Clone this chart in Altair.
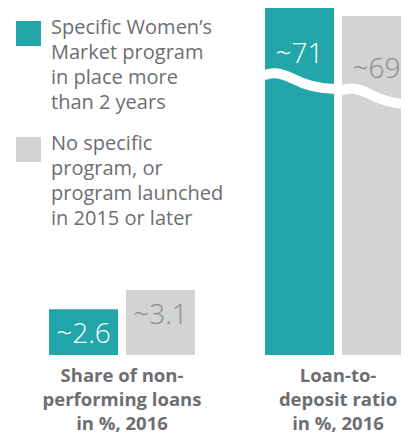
import altair as alt
import pandas as pd

# ---- data ----
groups = ["Share of non-|performing loans|in %, 2016", "Loan-to-|deposit ratio|in %, 2016"]
series = ["Specific Women’s|Market program|in place more|than 2 years",
          "No specific|program, or|program launched|in 2015 or later"]
npl_values = [2.6, 3.1]
npl_labels = ["~2.6", "~3.1"]
ltd_values = [71, 69]
ltd_labels = ["~71", "~69"]
ltd_break = [52.75, 48.9]   # where the axis break is drawn (value units)

TEAL = "#22a6aa"
GREY = "#d1d3d4"
TXT = "#6d6e71"
VAL_GREY = "#8a8c8f"
FONT = "Open Sans"

WAVE = "M-1,-0.15 C-0.8,-0.25 -0.55,-0.25 -0.2,-0.07 C0.15,0.12 0.5,0.22 1,0.22"

npl = pd.DataFrame({"group": groups[0], "series": series, "value": npl_values, "label": npl_labels})
ltd = pd.DataFrame({"group": groups[1], "series": series, "value": ltd_values,
                    "label": ltd_labels, "brk": ltd_break})

x = alt.X("group:N", sort=groups,
          scale=alt.Scale(domain=groups, range=[41, 403], paddingInner=0.3241, paddingOuter=0),
          axis=alt.Axis(title=None, labelAngle=0, domain=False, ticks=False,
                        labelExpr="split(datum.label, '|')", labelFont=FONT,
                        labelFontSize=18.5, labelFontWeight="bold", labelColor=TXT,
                        labelLineHeight=24, labelPadding=11, labelLimit=400))
xo = alt.XOffset("series:N", sort=series,
                 scale=alt.Scale(domain=series, paddingInner=0.1039, paddingOuter=0))
color = alt.Color("series:N", sort=series,
                  scale=alt.Scale(domain=series, range=[TEAL, GREY]),
                  legend=alt.Legend(title=None, orient="none", legendX=8, legendY=13,
                                    direction="vertical", columns=1,
                                    symbolType="square", symbolSize=625,
                                    symbolStrokeWidth=0, symbolOpacity=1,
                                    labelExpr="split(datum.label, '|')",
                                    labelFont=FONT, labelFontSize=20, labelColor=TXT,
                                    labelOffset=10, labelLimit=400,
                                    labelBaseline="alphabetic", rowPadding=20, padding=0))
txt_color = alt.when(alt.datum.series == series[0]).then(alt.value("white")).otherwise(alt.value(VAL_GREY))

dom_left = [1.416, 10.406]
dom_right = [-15.75, 71]
y_left = alt.Y("value:Q", scale=alt.Scale(domain=dom_left, zero=False, nice=False), axis=None)
y_right = alt.Y("value:Q", scale=alt.Scale(domain=dom_right, zero=False, nice=False), axis=None)
y_brk = alt.Y("brk:Q", scale=alt.Scale(domain=dom_right, zero=False, nice=False), axis=None)

left_bars = alt.Chart(npl).mark_bar(clip=True).encode(x=x, xOffset=xo, y=y_left,
                                                      y2=alt.datum(dom_left[0]), color=color)
left_text = alt.Chart(npl).mark_text(font=FONT, fontSize=28, fontWeight=300,
                                     baseline="alphabetic", dy=34).encode(
    x=x, xOffset=xo, y=y_left, text="label:N", color=txt_color)
left = alt.layer(left_bars, left_text)

right_bars = alt.Chart(ltd).mark_bar(clip=True).encode(x=x, xOffset=xo, y=y_right,
                                                       y2=alt.datum(dom_right[0]), color=color)
right_wave = alt.Chart(ltd).mark_point(shape=WAVE, filled=False, stroke="white", clip=True,
                                       strokeWidth=10, opacity=1, size=5184).encode(
    x=x, xOffset=xo, y=y_brk)
right_text = alt.Chart(ltd).mark_text(font=FONT, fontSize=28, fontWeight=300,
                                      baseline="alphabetic", dy=-18).encode(
    x=x, xOffset=xo, y=y_brk, text="label:N", color=txt_color)
right = alt.layer(right_bars, right_wave, right_text)

chart = alt.layer(left, right).resolve_scale(y="independent").properties(
    width=393, height=347, background="white",
    padding={"left": 0, "top": 0, "right": 0, "bottom": 78},
    autosize=alt.AutoSizeParams(type="none")
).configure(style={"guide-label": {"lineHeight": 25}}).configure_view(stroke=None)

chart.save("out.html", embed_options={"renderer": "svg", "actions": False})
